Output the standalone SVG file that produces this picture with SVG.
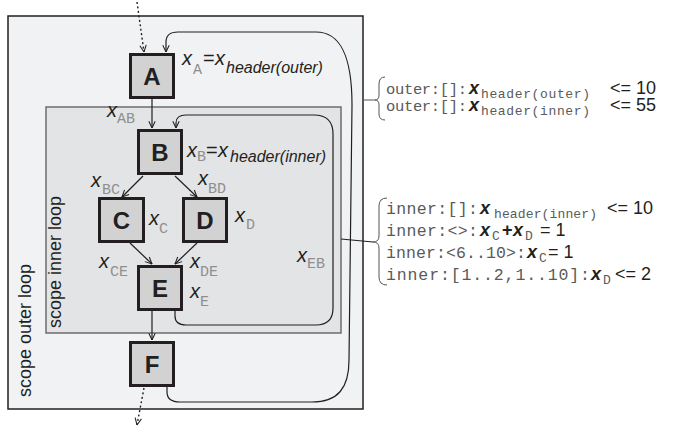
<svg xmlns="http://www.w3.org/2000/svg" width="673" height="432" viewBox="0 0 673 432">
  <style>
    .node rect { fill: #d2d2d2; stroke: #231f20; stroke-width: 3; }
    .node text { font-family: "Liberation Sans", Arial, sans-serif; font-weight: bold; font-size: 24px; fill: #231f20; text-anchor: middle; }
    .edge { fill: none; stroke: #231f20; stroke-width: 1.2; }
    .dotted { fill: none; stroke: #231f20; stroke-width: 1.4; stroke-dasharray: 2 2.5; }
    .var { font-family: "Liberation Sans", Arial, sans-serif; font-style: italic; font-size: 20px; fill: #231f20; }
    .eq { font-family: "Liberation Sans", Arial, sans-serif; font-size: 20px; fill: #231f20; }
    .sub { font-family: "Liberation Mono", "Courier New", monospace; font-size: 15px; fill: #8f8f8f; }
    .hsub { font-family: "Liberation Sans", Arial, sans-serif; font-style: italic; font-size: 16px; fill: #231f20; }
    .scope { font-family: "Liberation Sans", Arial, sans-serif; font-size: 18px; fill: #231f20; }
    .code { font-family: "Liberation Mono", "Courier New", monospace; font-size: 16.5px; fill: #5a5a5a; }
    .csub { font-family: "Liberation Mono", "Courier New", monospace; font-size: 13px; fill: #5a5a5a; }
    .cvar { font-family: "Liberation Sans", Arial, sans-serif; font-style: italic; font-weight: bold; font-size: 18px; fill: #231f20; }
    .op { font-family: "Liberation Sans", Arial, sans-serif; font-size: 18px; fill: #231f20; }
    .brace { fill: none; stroke: #555; stroke-width: 1; }
  </style>
  <defs>
    <marker id="arr" viewBox="0 0 10 10" refX="9.5" refY="5" markerWidth="8" markerHeight="8" orient="auto" markerUnits="userSpaceOnUse">
      <path d="M1,1 L9.5,5 L1,9" fill="none" stroke="#231f20" stroke-width="1.3"/>
    </marker>
  </defs>

  <rect width="673" height="432" fill="#ffffff"/>

  <!-- loop scopes -->
  <g id="scope-outer">
    <rect x="8" y="16" width="355" height="393" fill="#f1f2f4" stroke="#231f20" stroke-width="1.5"/>
    <text class="scope" transform="translate(31,397) rotate(-90)">scope outer loop</text>
  </g>
  <g id="scope-inner">
    <rect x="46" y="107" width="295" height="226" fill="#e3e4e6" stroke="#6d6d6d" stroke-width="1.5"/>
    <text class="scope" transform="translate(61,328) rotate(-90)">scope inner loop</text>
  </g>

  <!-- connectors -->
  <g id="connectors">
    <path class="dotted" d="M137,2 L144,52" marker-end="url(#arr)"/>
    <path class="edge" d="M152,99 L152,128" marker-end="url(#arr)"/>
    <path class="edge" d="M143,176 L122,197" marker-end="url(#arr)"/>
    <path class="edge" d="M175,176 L197,197" marker-end="url(#arr)"/>
    <path class="edge" d="M130,243 L152,264" marker-end="url(#arr)"/>
    <path class="edge" d="M197,243 L175,264" marker-end="url(#arr)"/>
    <path class="edge" d="M152,311 L152,340" marker-end="url(#arr)"/>
    <path class="dotted" d="M144,388 L137,425" marker-end="url(#arr)"/>
    <!-- back edge E -> B -->
    <path class="edge" d="M175,311 L175,316 Q175,325 186,325 L316,325 Q333,325 333,308 L333,134 Q333,115 314,115 L186,115 Q176,115 176,123 L176,128" marker-end="url(#arr)"/>
    <!-- back edge F -> A -->
    <path class="edge" d="M167,387 L167,392 Q167,402 180,402 L312,402 C338,402 349,388 349,360 L352,105 C352,55 340,32 316,32 L178,32 Q166,32 166,42 L166,52" marker-end="url(#arr)"/>
    <!-- constraint braces -->
    <path class="brace" d="M363,100 L375,100"/>
    <path class="brace" d="M385,77 Q379,77 379,84 L379,95 Q379,100 375,100 Q379,100 379,105 L379,114 Q379,120 385,120"/>
    <path class="edge" d="M341,239 L373,242"/>
    <path class="brace" d="M387,198 Q379,198 379,206 L379,236 Q379,242 373,242 Q379,242 379,248 L379,277 Q379,285 387,285"/>
  </g>

  <!-- nodes -->
  <g id="node-A" class="node">
    <rect x="130.5" y="54.5" width="43" height="43"/>
    <text x="152" y="85">A</text>
  </g>
  <g id="node-B" class="node">
    <rect x="138.5" y="130.5" width="43" height="43"/>
    <text x="160" y="161">B</text>
  </g>
  <g id="node-C" class="node">
    <rect x="99.5" y="198.5" width="44" height="43"/>
    <text x="121.5" y="229">C</text>
  </g>
  <g id="node-D" class="node">
    <rect x="183.5" y="198.5" width="43" height="43"/>
    <text x="205" y="229">D</text>
  </g>
  <g id="node-E" class="node">
    <rect x="138.5" y="266.5" width="43" height="43"/>
    <text x="160" y="297">E</text>
  </g>
  <g id="node-F" class="node">
    <rect x="130.5" y="342.5" width="43" height="43"/>
    <text x="152" y="373">F</text>
  </g>

  <!-- node and edge variables -->
  <g id="labels">
    <text class="var" x="182" y="65">x</text><text class="sub" x="193" y="74">A</text>
    <text class="eq" x="203" y="65">=</text><text class="var" x="215" y="65">x</text>
    <text class="hsub" x="226" y="73">header(outer)</text>

    <text class="var" x="187" y="157">x</text><text class="sub" x="197" y="161">B</text>
    <text class="eq" x="206" y="157">=</text><text class="var" x="218" y="157">x</text>
    <text class="hsub" x="230" y="162">header(inner)</text>

    <text class="var" x="107" y="117">x</text><text class="sub" x="117" y="123">AB</text>
    <text class="var" x="91" y="187">x</text><text class="sub" x="102" y="194">BC</text>
    <text class="var" x="198" y="185">x</text><text class="sub" x="208" y="193">BD</text>
    <text class="var" x="149" y="225">x</text><text class="sub" x="159" y="233">C</text>
    <text class="var" x="235" y="222">x</text><text class="sub" x="246" y="229">D</text>
    <text class="var" x="99" y="268">x</text><text class="sub" x="110" y="276">CE</text>
    <text class="var" x="190" y="268">x</text><text class="sub" x="200" y="276">DE</text>
    <text class="var" x="190" y="298">x</text><text class="sub" x="200" y="306">E</text>
    <text class="var" x="297" y="262">x</text><text class="sub" x="307" y="268">EB</text>
  </g>

  <!-- outer loop constraints -->
  <g id="constraints-outer">
    <text class="code" x="386" y="94" style="font-size:15.5px" textLength="81">outer:[]:</text>
    <text class="cvar" x="469" y="94">x</text>
    <text class="csub" x="481" y="98" textLength="109">header(outer)</text>
    <text class="op" x="610" y="94">&lt;= 10</text>

    <text class="code" x="386" y="111" style="font-size:15.5px" textLength="81">outer:[]:</text>
    <text class="cvar" x="469" y="111">x</text>
    <text class="csub" x="481" y="115" textLength="109">header(inner)</text>
    <text class="op" x="610" y="111">&lt;= 55</text>
  </g>

  <!-- inner loop constraints -->
  <g id="constraints-inner">
    <text class="code" x="386" y="214" textLength="92">inner:[]:</text>
    <text class="cvar" x="480" y="214">x</text>
    <text class="csub" x="494" y="218" textLength="103">header(inner)</text>
    <text class="op" x="607" y="214">&lt;= 10</text>

    <text class="code" x="386" y="236" textLength="92">inner:&lt;&gt;:</text>
    <text class="cvar" x="480" y="236">x</text>
    <text class="csub" x="492" y="240">C</text>
    <text class="op" x="502" y="236" style="font-weight:bold">+</text>
    <text class="cvar" x="513" y="236">x</text>
    <text class="csub" x="525" y="240">D</text>
    <text class="op" x="540" y="236">= 1</text>

    <text class="code" x="386" y="258" textLength="140">inner:&lt;6..10&gt;:</text>
    <text class="cvar" x="527" y="258">x</text>
    <text class="csub" x="539" y="262">C</text>
    <text class="op" x="548" y="258">= 1</text>

    <text class="code" x="386" y="280" textLength="204">inner:[1..2,1..10]:</text>
    <text class="cvar" x="591" y="280">x</text>
    <text class="csub" x="603" y="284">D</text>
    <text class="op" x="615" y="280">&lt;= 2</text>
  </g>
</svg>
